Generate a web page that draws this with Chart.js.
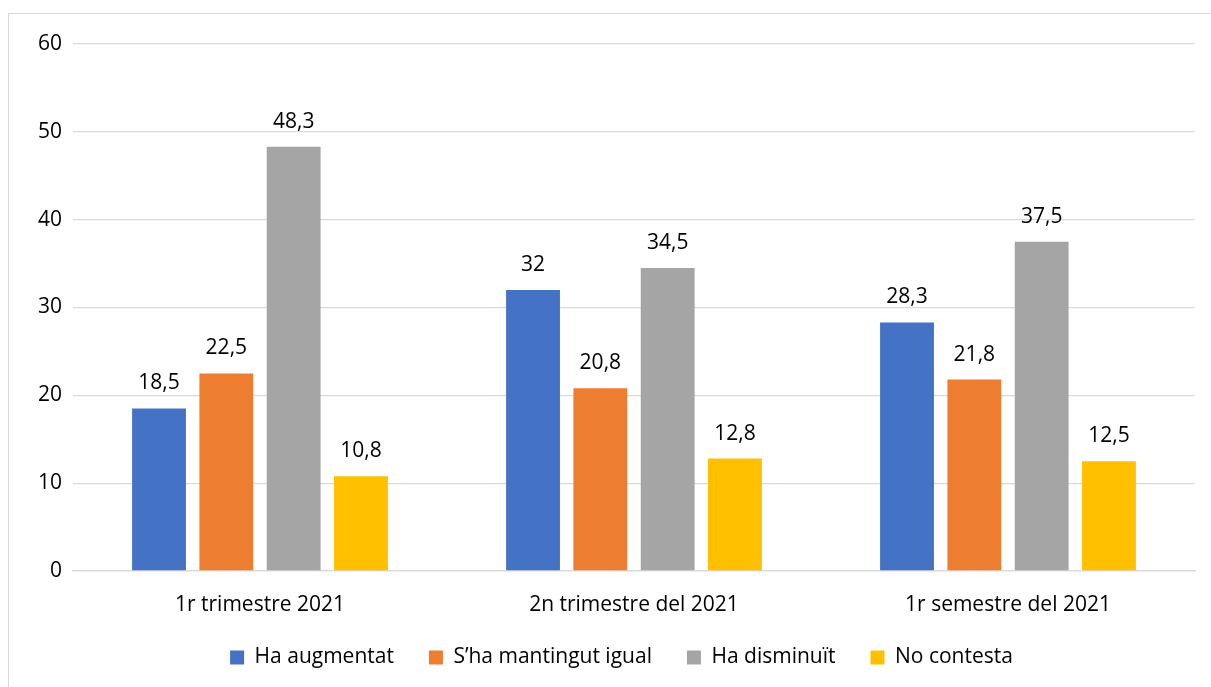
<!DOCTYPE html>
<html lang="ca">
<head>
<meta charset="UTF-8">
<title>Evolució</title>
<script src="https://cdn.jsdelivr.net/npm/chart.js"></script>
<style>
  html, body { margin: 0; padding: 0; background: #fff; }
  #frame { position: absolute; left: 8px; top: 13px; width: 1220px; height: 700px; border: 1px solid #d9d9d9; }
  #wrap { position: absolute; left: 0; top: 0; width: 1211px; height: 687px; }
</style>
</head>
<body>
<div id="frame"></div>
<div id="wrap"><canvas id="chart"></canvas></div>
<script>
const categories = ['1r trimestre 2021', '2n trimestre del 2021', '1r semestre del 2021'];
const seriesNames = ['Ha augmentat', 'S\u2019ha mantingut igual', 'Ha disminuït', 'No contesta'];
const augmentat = [18.5, 32, 28.3];
const mantingut = [22.5, 20.8, 21.8];
const disminuit = [48.3, 34.5, 37.5];
const noContesta = [10.8, 12.8, 12.5];
const yTicks = [0, 10, 20, 30, 40, 50, 60];
const colors = ['#4472C4', '#ED7D31', '#A5A5A5', '#FFC000'];

const FONT = '"Open Sans", Lato, sans-serif';
const SIZE = 21;

// draws the value over each bar, with a decimal comma
const valueLabels = {
  id: 'valueLabels',
  afterDatasetsDraw(chart) {
    const ctx = chart.ctx;
    ctx.save();
    ctx.font = SIZE + 'px ' + FONT;
    ctx.fillStyle = '#000';
    ctx.textAlign = 'center';
    ctx.textBaseline = 'middle';
    chart.data.datasets.forEach((ds, i) => {
      chart.getDatasetMeta(i).data.forEach((bar, j) => {
        ctx.fillText(String(ds.data[j]).replace('.', ','), bar.x, bar.y - 25);
      });
    });
    ctx.restore();
  }
};

// the legend sits a bit right of the plot centre and closer to the axis, as in the original
const legendNudge = {
  id: 'legendNudge',
  afterLayout(chart) {
    const lg = chart.legend;
    const dx = 24, dy = -9;
    lg.left += dx; lg.right += dx;
    lg.top += dy; lg.bottom += dy;
  }
};

const values = [augmentat, mantingut, disminuit, noContesta];

new Chart(document.getElementById('chart'), {
  type: 'bar',
  data: {
    labels: categories,
    datasets: seriesNames.map((name, i) => ({
      label: name,
      data: values[i],
      backgroundColor: colors[i],
      categoryPercentage: 0.72,
      barPercentage: 0.8
    }))
  },
  options: {
    responsive: true,
    maintainAspectRatio: false,
    animation: false,
    layout: { padding: { left: 0, right: 16, top: 44, bottom: 0 } },
    scales: {
      y: {
        min: 0,
        max: 60,
        afterBuildTicks(scale) { scale.ticks = yTicks.map(v => ({ value: v })); },
        afterFit(scale) { scale.width = 73; },
        grid: { color: '#d9d9d9', lineWidth: 1.3, drawTicks: false },
        border: { display: false },
        ticks: { color: '#000', font: { family: FONT, size: SIZE }, padding: 11 }
      },
      x: {
        afterFit(scale) { scale.height = 50; },
        grid: { display: false, drawTicks: false },
        border: { color: '#d9d9d9', width: 1.3 },
        ticks: { color: '#000', font: { family: FONT, size: SIZE }, padding: 21 }
      }
    },
    plugins: {
      legend: {
        position: 'bottom',
        labels: {
          color: '#000',
          font: { family: FONT, size: SIZE },
          boxWidth: 14,
          boxHeight: 14,
          padding: 35
        }
      },
      tooltip: { enabled: false }
    }
  },
  plugins: [valueLabels, legendNudge]
});
</script>
</body>
</html>
